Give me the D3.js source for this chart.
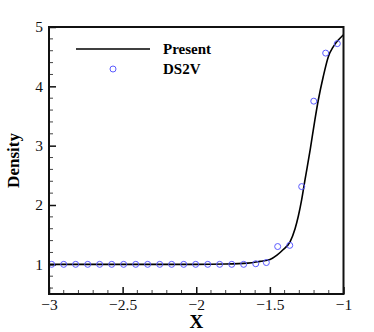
<!DOCTYPE html>
<html>
<head>
<meta charset="utf-8">
<script src="https://cdn.jsdelivr.net/npm/d3@7"></script>
<style>
  body { margin: 0; background: #fff; }
  text { font-family: "Liberation Serif", "Times New Roman", serif; }
</style>
</head>
<body>
<svg id="chart" width="374" height="332"></svg>
<script>
// Present (solid line)
const presentX = [-3.0, -2.5, -2.0, -1.8, -1.65, -1.567, -1.499, -1.454, -1.409, -1.363, -1.329, -1.307, -1.284, -1.261, -1.225, -1.194, -1.171, -1.137, -1.103, -1.069, -1.035, -1.0];
const presentY = [1.0, 1.0, 1.0, 1.005, 1.02, 1.05, 1.08, 1.15, 1.25, 1.38, 1.6, 1.81, 2.09, 2.43, 2.95, 3.44, 3.77, 4.17, 4.5, 4.67, 4.78, 4.87];

// DS2V (open circles)
const ds2vX = [-2.982, -2.9, -2.819, -2.737, -2.656, -2.574, -2.493, -2.411, -2.33, -2.248, -2.167, -2.085, -2.004, -1.922, -1.841, -1.759, -1.678, -1.596, -1.524, -1.447, -1.365, -1.284, -1.202, -1.121, -1.042];
const ds2vY = [1.0, 1.0, 1.0, 1.0, 1.0, 1.0, 1.0, 1.0, 1.0, 1.0, 1.0, 1.0, 1.0, 1.0, 1.0, 1.0, 1.0, 1.01, 1.03, 1.3, 1.32, 2.31, 3.75, 4.56, 4.72];

const xTicks = [-3, -2.5, -2, -1.5, -1];
const yTicks = [1, 2, 3, 4, 5];
const legendLabels = ["Present", "DS2V"];

const margin = { top: 27, right: 30.5, bottom: 38, left: 49 };
const W = 374, H = 332;
const width = W - margin.left - margin.right;
const height = H - margin.top - margin.bottom;

const svg = d3.select('#chart');
const g = svg.append('g').attr('transform', `translate(${margin.left},${margin.top})`);

const x = d3.scaleLinear().domain([-3, -1]).range([0, width]);
const y = d3.scaleLinear().domain([0.5, 5]).range([height, 0]);

// minor ticks
const xMinor = d3.range(-3, -0.999, 0.1).filter(v => !xTicks.some(t => Math.abs(t - v) < 1e-6));
const yMinor = d3.range(0.6, 5.001, 0.2).filter(v => !yTicks.some(t => Math.abs(t - v) < 1e-6));

g.selectAll('.xminor').data(xMinor).enter().append('line')
  .attr('x1', d => x(d)).attr('x2', d => x(d))
  .attr('y1', height).attr('y2', height - 4)
  .attr('stroke', '#444').attr('stroke-width', 1);
g.selectAll('.yminor').data(yMinor).enter().append('line')
  .attr('x1', 0).attr('x2', 4)
  .attr('y1', d => y(d)).attr('y2', d => y(d))
  .attr('stroke', '#444').attr('stroke-width', 1);

// major ticks, inward
const xAxis = g.append('g')
  .attr('transform', `translate(0,${height})`)
  .call(d3.axisBottom(x).tickValues(xTicks).tickSizeInner(-7).tickSizeOuter(0).tickPadding(5).tickFormat(d3.format('')));
const yAxis = g.append('g')
  .call(d3.axisLeft(y).tickValues(yTicks).tickSizeInner(-7).tickSizeOuter(0).tickPadding(6).tickFormat(d3.format('')));

[xAxis, yAxis].forEach(a => {
  a.select('.domain').remove();
  a.selectAll('.tick line').attr('stroke', '#111').attr('stroke-width', 1.5);
  a.selectAll('.tick text').attr('font-size', 15.5).attr('fill', '#111')
    .style('font-family', '"Liberation Serif", serif');
});
xAxis.selectAll('.tick text').attr('dy', '0.71em');

// curve
const line = d3.line()
  .x((d, i) => x(presentX[i]))
  .y(d => y(d))
  .curve(d3.curveMonotoneX);

g.append('path')
  .datum(presentY)
  .attr('fill', 'none')
  .attr('stroke', '#000')
  .attr('stroke-width', 1.6)
  .attr('d', line);

g.selectAll('.pt').data(ds2vY).enter().append('circle')
  .attr('cx', (d, i) => x(ds2vX[i]))
  .attr('cy', d => y(d))
  .attr('r', 3)
  .attr('fill', 'none')
  .attr('stroke', '#5b5bff')
  .attr('stroke-width', 1);

// frame
g.append('rect')
  .attr('x', 0).attr('y', 0)
  .attr('width', width).attr('height', height)
  .attr('fill', 'none')
  .attr('stroke', '#111')
  .attr('stroke-width', 2);

// legend
const lg = svg.append('g');
lg.append('line')
  .attr('x1', 76).attr('x2', 150).attr('y1', 49).attr('y2', 49)
  .attr('stroke', '#000').attr('stroke-width', 1.6);
lg.append('circle')
  .attr('cx', 113).attr('cy', 69).attr('r', 3)
  .attr('fill', 'none').attr('stroke', '#5b5bff').attr('stroke-width', 1);
lg.selectAll('text').data(legendLabels).enter().append('text')
  .attr('x', 163)
  .attr('y', (d, i) => 54 + i * 20)
  .attr('font-size', 15)
  .attr('font-weight', 'bold')
  .text(d => d);

// axis titles
svg.append('text')
  .attr('x', margin.left + x(-2))
  .attr('y', 328)
  .attr('text-anchor', 'middle')
  .attr('font-size', 19)
  .attr('font-weight', 'bold')
  .text('X');

svg.append('text')
  .attr('transform', `translate(19,${margin.top + y(2.75)}) rotate(-90)`)
  .attr('text-anchor', 'middle')
  .attr('font-size', 17)
  .attr('font-weight', 'bold')
  .text('Density');
</script>
</body>
</html>
